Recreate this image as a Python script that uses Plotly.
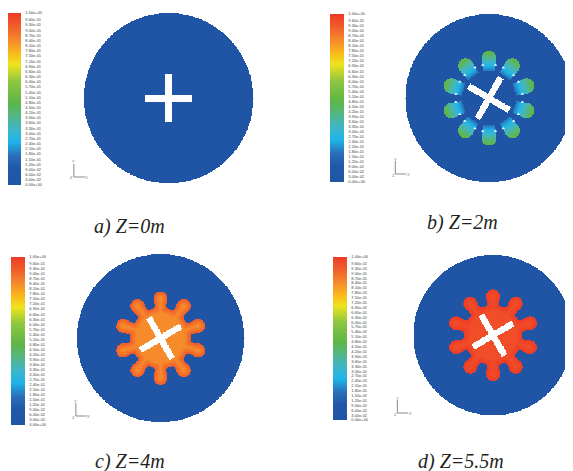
import numpy as np
import plotly.graph_objects as go

W, H = 573, 471          # reference picture size
PAGE_MARGIN = 8          # default body margin of the HTML page
FW, FH = W - PAGE_MARGIN, H - PAGE_MARGIN

# ---------------- data ----------------
PANEL_CAPTIONS = ["a) Z=0m", "b) Z=2m", "c) Z=4m", "d) Z=5.5m"]
BACKGROUND_VALUES = [0.0, 0.0, 0.0, 0.0]
CORE_VALUES = [None, None, 0.84, 0.96]
EDGE_VALUES = [None, None, 0.93, 1.00]
PETAL_BASE_VALUES = [None, 0.17, None, None]
PETAL_TIP_VALUES = [None, 0.50, None, None]
CROSS_ANGLES_DEG = [0, -30, 30, 30]
CROSS_HALF_LENGTH = [0.28, 0.28, 0.28, 0.29]
CROSS_HALF_WIDTH = [0.036, 0.038, 0.038, 0.04]
PETAL_ANGLES_DEG = [90, 54, 18, -18, -54, -90, -126, -162, 162, 126]
CORE_RADIUS = [None, None, 0.36, 0.37]
PETAL_INNER = [None, 0.32, 0.30, 0.31]
PETAL_OUTER = [None, 0.56, 0.55, 0.57]
PETAL_NECK_HALF_WIDTH = [None, 0.078, 0.070, 0.072]
PETAL_TIP_RADIUS = [None, 0.088, 0.08, 0.083]
GAP_MARK_RADIUS = 0.40
GAP_MARK_OFFSET_DEG = [-11, 11]

COLORBAR_TICKS = [0.00, 0.03, 0.06, 0.09, 0.12, 0.15, 0.18, 0.21, 0.24, 0.27,
                  0.30, 0.33, 0.36, 0.39, 0.42, 0.45, 0.48, 0.51, 0.54, 0.57,
                  0.60, 0.63, 0.66, 0.69, 0.72, 0.75, 0.78, 0.81, 0.84, 0.87,
                  0.90, 0.93, 0.96, 1.00]
COLORBAR_TICK_TEXT = ["0.00e+00", "3.00e-02", "6.00e-02", "9.00e-02", "1.20e-01",
                      "1.50e-01", "1.80e-01", "2.10e-01", "2.40e-01", "2.70e-01",
                      "3.00e-01", "3.30e-01", "3.60e-01", "3.90e-01", "4.20e-01",
                      "4.50e-01", "4.80e-01", "5.10e-01", "5.40e-01", "5.70e-01",
                      "6.00e-01", "6.30e-01", "6.60e-01", "6.90e-01", "7.20e-01",
                      "7.50e-01", "7.80e-01", "8.10e-01", "8.40e-01", "8.70e-01",
                      "9.00e-01", "9.30e-01", "9.60e-01", "1.00e+00"]

COLORSCALE = [
    [0.00, "#1F55A4"], [0.10, "#2159A8"], [0.17, "#2A6FB8"], [0.25, "#1FB3E9"],
    [0.33, "#40B6C6"], [0.41, "#55B67E"], [0.48, "#5DB646"], [0.60, "#8DC63F"],
    [0.70, "#EEE31D"], [0.77, "#FAB61A"], [0.84, "#F68B2B"], [0.92, "#F15F29"],
    [1.00, "#EE3A27"],
]

# ---------------- layout (reference pixels) ----------------
DISC = [(168, 98, 85), (489, 98, 84), (160, 338, 84), (493, 335, 80)]
CBAR = [(7, 13, 185), (330, 14, 182), (11, 257, 425), (333, 257, 420)]
CAPTION_POS = [(129, 226), (462, 223), (129, 461), (461, 461)]
TRIAD = [(73, 177), (395, 174), (75, 416), (397, 413)]


def px(x):
    return (x - PAGE_MARGIN) / FW


def py(y):
    return 1 - (y - PAGE_MARGIN) / FH


def smin(a, b, k):
    h = np.clip(0.5 + 0.5 * (b - a) / k, 0, 1)
    return b * (1 - h) + a * h - k * h * (1 - h)


def petal_sdf(X, Y, ang, a0, outer, neck, tip):
    """signed distance of a bulb-ended petal (negative inside)"""
    t = np.deg2rad(ang)
    ux, uy = np.cos(t), np.sin(t)
    a = X * ux + Y * uy
    p = -X * uy + Y * ux
    tip_c = outer - tip
    ac = np.clip(a, a0, tip_c)
    stem = np.hypot(a - ac, p) - neck
    bulb = np.hypot(a - tip_c, p) - tip
    return smin(stem, bulb, 0.03), a


def build_field(i, n=281):
    g = np.linspace(-1, 1, n)
    X, Y = np.meshgrid(g, g)
    R = np.hypot(X, Y)
    Z = np.full_like(X, BACKGROUND_VALUES[i])

    if CORE_VALUES[i] is not None:
        sdf = R - CORE_RADIUS[i]
        for ang in PETAL_ANGLES_DEG:
            d, _ = petal_sdf(X, Y, ang, PETAL_INNER[i], PETAL_OUTER[i],
                             PETAL_NECK_HALF_WIDTH[i], PETAL_TIP_RADIUS[i])
            sdf = smin(sdf, d, 0.025)
        d_in = -sdf
        inside = d_in > 0
        band = 0.07
        v = CORE_VALUES[i] + (EDGE_VALUES[i] - CORE_VALUES[i]) * np.clip(1 - d_in / band, 0, 1)
        Z = np.where(inside, v, Z)
    elif PETAL_BASE_VALUES[i] is not None:
        for ang in PETAL_ANGLES_DEG:
            a0 = PETAL_INNER[i]
            d, a = petal_sdf(X, Y, ang, a0, PETAL_OUTER[i],
                             PETAL_NECK_HALF_WIDTH[i], PETAL_TIP_RADIUS[i])
            inside = (d < 0) & (a > a0)
            s = np.clip((a - a0) / (PETAL_OUTER[i] - a0), 0, 1)
            v = PETAL_BASE_VALUES[i] + (PETAL_TIP_VALUES[i] - PETAL_BASE_VALUES[i]) * s
            Z = np.where(inside, np.maximum(Z, v), Z)

    t = np.deg2rad(CROSS_ANGLES_DEG[i])
    ux, uy = np.cos(t), np.sin(t)
    a = X * ux + Y * uy
    p = -X * uy + Y * ux
    L, Wd = CROSS_HALF_LENGTH[i], CROSS_HALF_WIDTH[i]
    cross = ((np.abs(a) <= L) & (np.abs(p) <= Wd)) | ((np.abs(p) <= L) & (np.abs(a) <= Wd))
    Z = np.where(cross | (R > 1.0), np.nan, Z)
    return g, Z


fig = go.Figure()
layout_axes = {}
annotations = []
shapes = []

for i in range(4):
    cx, cy, r = DISC[i]
    xa = "x" if i == 0 else f"x{i+1}"
    ya = "y" if i == 0 else f"y{i+1}"
    xkey = "xaxis" if i == 0 else f"xaxis{i+1}"
    ykey = "yaxis" if i == 0 else f"yaxis{i+1}"
    x0p, x1p = max(PAGE_MARGIN, cx - r), min(W, cx + r)
    y0p, y1p = max(PAGE_MARGIN, cy - r), min(H, cy + r)
    layout_axes[xkey] = dict(domain=[px(x0p), px(x1p)],
                             range=[(x0p - cx) / r, (x1p - cx) / r],
                             visible=False, fixedrange=True)
    layout_axes[ykey] = dict(domain=[py(y1p), py(y0p)],
                             range=[(cy - y1p) / r, (cy - y0p) / r],
                             visible=False, fixedrange=True)

    g, Z = build_field(i)
    cbx, cby0, cby1 = CBAR[i]
    fig.add_trace(go.Heatmap(
        x=g, y=g, z=Z, zmin=0, zmax=1, colorscale=COLORSCALE,
        xaxis=xa, yaxis=ya, hoverinfo="skip", zsmooth=False,
        colorbar=dict(
            x=px(cbx), xanchor="left", y=py((cby0 + cby1) / 2), yanchor="middle",
            len=cby1 - cby0, lenmode="pixels", thickness=14, thicknessmode="pixels",
            xpad=0, ypad=0, outlinewidth=0,
            tickvals=COLORBAR_TICKS, ticktext=COLORBAR_TICK_TEXT,
            ticks="outside", ticklen=4, tickcolor="rgba(0,0,0,0)",
            tickfont=dict(family="Liberation Sans", size=4, color="#444444"),
        ),
    ))

    if i == 1:
        mx, my = [], []
        for ang in PETAL_ANGLES_DEG:
            for off in GAP_MARK_OFFSET_DEG:
                t = np.deg2rad(ang + off)
                mx.append(GAP_MARK_RADIUS * np.cos(t))
                my.append(GAP_MARK_RADIUS * np.sin(t))
        fig.add_trace(go.Scatter(x=mx, y=my, mode="markers", xaxis=xa, yaxis=ya,
                                 marker=dict(color="white", size=3, symbol="triangle-up"),
                                 hoverinfo="skip", showlegend=False))

    capx, capy = CAPTION_POS[i]
    annotations.append(dict(
        x=px(capx), y=py(capy), xref="paper", yref="paper", showarrow=False,
        text=PANEL_CAPTIONS[i], xanchor="center", yanchor="middle",
        font=dict(family="Liberation Serif", size=20, color="#231F20", style="italic"),
    ))

    tx, ty = TRIAD[i]
    shapes.append(dict(type="line", xref="paper", yref="paper",
                       x0=px(tx), y0=py(ty), x1=px(tx), y1=py(ty - 13),
                       line=dict(color="#8a8a8a", width=1)))
    shapes.append(dict(type="line", xref="paper", yref="paper",
                       x0=px(tx), y0=py(ty), x1=px(tx + 11), y1=py(ty),
                       line=dict(color="#8a8a8a", width=1)))
    for lab, dx, dy in (("Y", 0, -15), ("X", 13, 0), ("Z", -2, 1)):
        annotations.append(dict(x=px(tx + dx), y=py(ty + dy), xref="paper", yref="paper",
                                showarrow=False, text=lab, xanchor="center", yanchor="middle",
                                font=dict(family="Liberation Sans", size=4, color="#777777")))

fig.update_layout(
    width=FW, height=FH, margin=dict(l=0, r=0, t=0, b=0),
    paper_bgcolor="white", plot_bgcolor="rgba(0,0,0,0)",
    showlegend=False, annotations=annotations, shapes=shapes,
    **layout_axes,
)

fig.write_html("out.html")
